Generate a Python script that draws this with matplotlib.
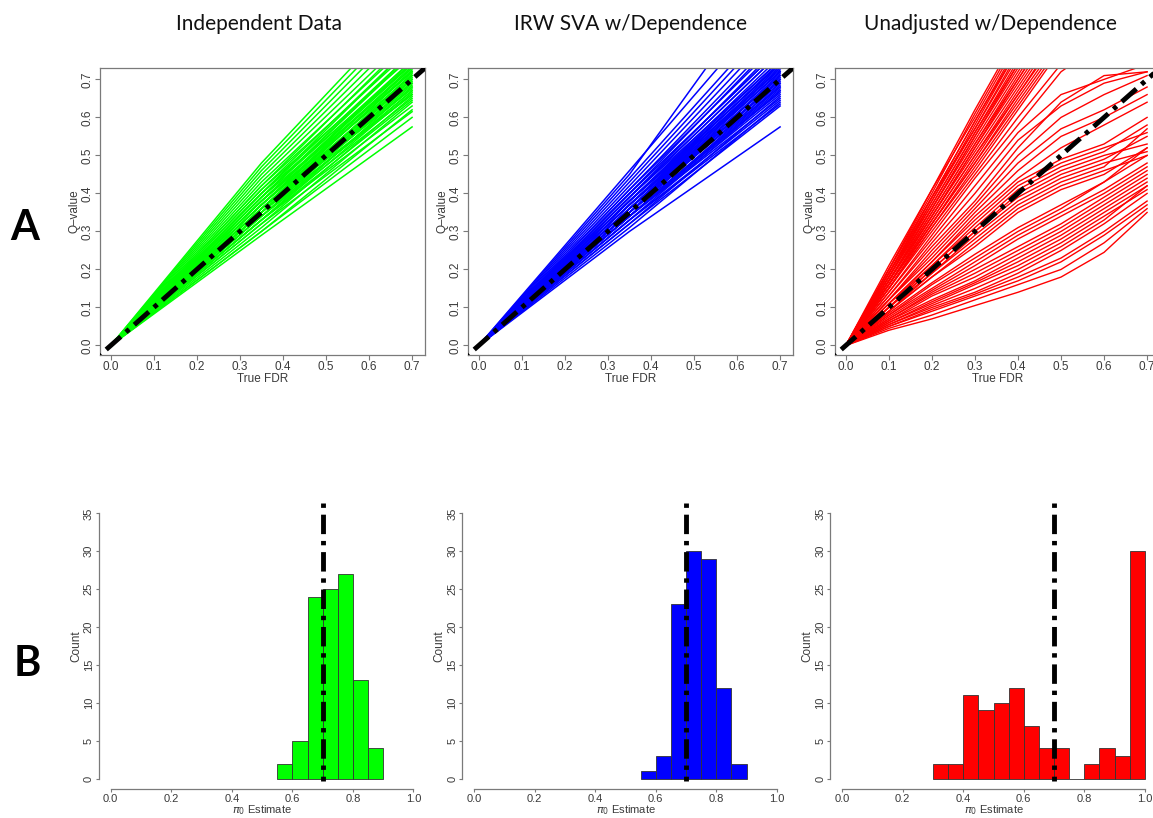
import matplotlib
matplotlib.use("Agg")
import matplotlib.pyplot as plt

plt.rcParams['font.family'] = ['Liberation Sans', 'DejaVu Sans']
plt.rcParams['font.size'] = 8

W, H = 1153, 818

titles = ['Independent Data', 'IRW SVA w/Dependence', 'Unadjusted w/Dependence']
colors = ['#00ff00', '#0000ff', '#ff0000']

# Q-value curves, read at True FDR = 0, 0.35, 0.7
fdr_line = [0.0, 0.35, 0.7]
green_q35 = [0.29, 0.30, 0.32, 0.30, 0.33, 0.31, 0.33, 0.34, 0.32, 0.35, 0.33,
             0.34, 0.36, 0.33, 0.35, 0.36, 0.34, 0.37, 0.35, 0.36, 0.38, 0.35,
             0.37, 0.39, 0.36, 0.38, 0.37, 0.40, 0.38, 0.39, 0.41, 0.39, 0.40,
             0.42, 0.41, 0.43, 0.42, 0.44, 0.45, 0.46, 0.47, 0.48,
             0.34, 0.35, 0.36, 0.37, 0.38, 0.36, 0.37, 0.39, 0.35, 0.38,
             0.40, 0.36]
green_q70 = [0.575, 0.60, 0.615, 0.62, 0.63, 0.64, 0.645, 0.65, 0.655, 0.66,
             0.665, 0.67, 0.675, 0.68, 0.685, 0.69, 0.695, 0.70, 0.70, 0.705,
             0.71, 0.715, 0.72, 0.72, 0.725, 0.73, 0.735, 0.74, 0.745, 0.75,
             0.76, 0.765, 0.77, 0.78, 0.79, 0.80, 0.81, 0.82, 0.84, 0.86, 0.88,
             0.90, 0.67, 0.69, 0.71, 0.73, 0.75, 0.70, 0.72, 0.77, 0.68, 0.74,
             0.79, 0.66]
blue_q35 = [0.30, 0.32, 0.33, 0.31, 0.33, 0.34, 0.32, 0.34, 0.35, 0.33, 0.34,
            0.36, 0.34, 0.35, 0.36, 0.35, 0.37, 0.36, 0.35, 0.37, 0.38, 0.36,
            0.37, 0.38, 0.37, 0.39, 0.38, 0.39, 0.40, 0.39, 0.41, 0.40, 0.41,
            0.42, 0.43, 0.44, 0.46, 0.45, 0.35, 0.36, 0.34, 0.38,
            0.35, 0.36, 0.37, 0.38, 0.36, 0.37, 0.39, 0.34, 0.38, 0.40]
blue_q70 = [0.575, 0.63, 0.635, 0.64, 0.645, 0.65, 0.655, 0.66, 0.665, 0.67,
            0.675, 0.68, 0.685, 0.69, 0.695, 0.70, 0.705, 0.71, 0.715, 0.72,
            0.725, 0.73, 0.735, 0.74, 0.745, 0.75, 0.76, 0.77, 0.78, 0.79,
            0.80, 0.81, 0.82, 0.84, 0.86, 0.88, 0.92, 1.00, 0.70, 0.72, 0.68,
            0.74, 0.69, 0.71, 0.73, 0.75, 0.70, 0.72, 0.77, 0.67, 0.74, 0.78]

# unadjusted curves, read at True FDR = 0.1, 0.2, ..., 0.7
fdr_red = [0.0, 0.1, 0.2, 0.3, 0.4, 0.5, 0.6, 0.7]
red_steep = [[0.21, 0.41, 0.62, 0.82, 1.03, 1.23, 1.44],
             [0.20, 0.40, 0.61, 0.81, 1.01, 1.21, 1.41],
             [0.20, 0.41, 0.60, 0.80, 1.00, 1.20, 1.40],
             [0.19, 0.39, 0.59, 0.79, 0.99, 1.19, 1.39],
             [0.20, 0.39, 0.59, 0.78, 0.98, 1.18, 1.37],
             [0.19, 0.38, 0.58, 0.78, 0.97, 1.16, 1.36],
             [0.19, 0.39, 0.57, 0.77, 0.96, 1.15, 1.34],
             [0.18, 0.38, 0.57, 0.76, 0.95, 1.14, 1.33],
             [0.19, 0.37, 0.56, 0.75, 0.94, 1.13, 1.32],
             [0.18, 0.37, 0.56, 0.74, 0.93, 1.12, 1.30],
             [0.18, 0.36, 0.55, 0.74, 0.92, 1.10, 1.29],
             [0.17, 0.36, 0.55, 0.73, 0.91, 1.09, 1.27],
             [0.18, 0.36, 0.54, 0.72, 0.90, 1.08, 1.26],
             [0.17, 0.35, 0.53, 0.71, 0.89, 1.07, 1.25],
             [0.17, 0.35, 0.53, 0.70, 0.88, 1.06, 1.23],
             [0.17, 0.34, 0.52, 0.70, 0.87, 1.04, 1.22],
             [0.16, 0.34, 0.52, 0.69, 0.86, 1.03, 1.20],
             [0.17, 0.34, 0.51, 0.68, 0.85, 1.02, 1.19],
             [0.16, 0.33, 0.50, 0.67, 0.84, 1.01, 1.18],
             [0.16, 0.33, 0.50, 0.66, 0.83, 1.00, 1.16],
             [0.16, 0.32, 0.49, 0.66, 0.82, 0.98, 1.15],
             [0.15, 0.32, 0.48, 0.65, 0.81, 0.97, 1.13],
             [0.16, 0.32, 0.48, 0.64, 0.80, 0.96, 1.12],
             [0.15, 0.31, 0.47, 0.63, 0.79, 0.94, 1.10],
             [0.15, 0.31, 0.46, 0.62, 0.78, 0.93, 1.09]]
red_mid = [[0.15, 0.30, 0.45, 0.60, 0.74, 0.88, 1.00],
           [0.14, 0.29, 0.44, 0.58, 0.72, 0.80, 0.90],
           [0.14, 0.28, 0.42, 0.56, 0.66, 0.70, 0.74],
           [0.13, 0.27, 0.40, 0.54, 0.63, 0.69, 0.72],
           [0.13, 0.26, 0.38, 0.52, 0.64, 0.71, 0.72],
           [0.12, 0.25, 0.37, 0.50, 0.60, 0.66, 0.71],
           [0.12, 0.24, 0.36, 0.48, 0.57, 0.62, 0.68],
           [0.12, 0.23, 0.35, 0.46, 0.55, 0.60, 0.66],
           [0.11, 0.22, 0.34, 0.44, 0.52, 0.58, 0.64]]
red_plateau = [[0.11, 0.22, 0.33, 0.43, 0.49, 0.53, 0.60],
               [0.11, 0.21, 0.32, 0.42, 0.48, 0.52, 0.56],
               [0.10, 0.21, 0.31, 0.41, 0.47, 0.51, 0.58],
               [0.10, 0.20, 0.30, 0.40, 0.46, 0.50, 0.53],
               [0.10, 0.20, 0.30, 0.39, 0.45, 0.49, 0.55],
               [0.10, 0.19, 0.29, 0.38, 0.44, 0.48, 0.51],
               [0.09, 0.19, 0.28, 0.37, 0.43, 0.47, 0.57],
               [0.09, 0.18, 0.27, 0.36, 0.42, 0.46, 0.50],
               [0.09, 0.18, 0.26, 0.35, 0.41, 0.45, 0.52]]
red_low = [[0.085, 0.165, 0.24, 0.31, 0.37, 0.43, 0.50],
           [0.08, 0.16, 0.23, 0.30, 0.36, 0.43, 0.52],
           [0.08, 0.15, 0.22, 0.29, 0.35, 0.41, 0.48],
           [0.075, 0.145, 0.21, 0.28, 0.34, 0.40, 0.47],
           [0.07, 0.14, 0.20, 0.26, 0.32, 0.39, 0.46],
           [0.07, 0.135, 0.19, 0.25, 0.31, 0.38, 0.45],
           [0.065, 0.13, 0.18, 0.24, 0.30, 0.37, 0.44],
           [0.065, 0.12, 0.17, 0.23, 0.29, 0.36, 0.43],
           [0.06, 0.115, 0.165, 0.22, 0.28, 0.35, 0.42],
           [0.06, 0.11, 0.16, 0.21, 0.27, 0.34, 0.41],
           [0.055, 0.105, 0.15, 0.20, 0.26, 0.33, 0.42],
           [0.055, 0.10, 0.14, 0.19, 0.25, 0.32, 0.40],
           [0.05, 0.095, 0.135, 0.18, 0.23, 0.30, 0.38],
           [0.05, 0.09, 0.13, 0.17, 0.22, 0.29, 0.37],
           [0.045, 0.08, 0.12, 0.16, 0.20, 0.27, 0.36],
           [0.04, 0.07, 0.105, 0.14, 0.18, 0.245, 0.35]]

# pi0 histograms (bin left edges, width 0.05)
green_bins = [0.55, 0.60, 0.65, 0.70, 0.75, 0.80, 0.85]
green_counts = [2, 5, 24, 25, 27, 13, 4]
blue_bins = [0.55, 0.60, 0.65, 0.70, 0.75, 0.80, 0.85]
blue_counts = [1, 3, 23, 30, 29, 12, 2]
red_bins = [0.30, 0.35, 0.40, 0.45, 0.50, 0.55, 0.60, 0.65, 0.70, 0.75,
            0.80, 0.85, 0.90, 0.95]
red_counts = [2, 2, 11, 9, 10, 12, 7, 4, 4, 0, 2, 4, 3, 30]
true_pi0 = 0.7

dashdot = (0, (0.9, 1.4, 4.0, 1.4))
axis_gray = '#7a7a7a'
text_gray = '#3a3a3a'


def px(l, t, r, b):
    return [l / W, 1 - b / H, (r - l) / W, (b - t) / H]


def style_ticks(ax, length, size):
    ax.tick_params(colors=axis_gray, labelcolor=text_gray, length=length,
                   width=0.8, pad=1, labelsize=size)
    ax.tick_params(axis='y', labelrotation=90)
    for lab in ax.get_yticklabels():
        lab.set_va('center')


fig = plt.figure(figsize=(W / 100, H / 100), dpi=100)

# row A: Q-value vs true FDR
ticks_a = [0.0, 0.1, 0.2, 0.3, 0.4, 0.5, 0.6, 0.7]
for i, left in enumerate([100, 468, 835]):
    ax = fig.add_axes(px(left, 68, left + 325, 355))
    if i == 0:
        for a, b in zip(green_q35, green_q70):
            ax.plot(fdr_line, [0.0, a, b], color=colors[0], lw=1.1)
    elif i == 1:
        for a, b in zip(blue_q35, blue_q70):
            ax.plot(fdr_line, [0.0, a, b], color=colors[1], lw=1.1)
    else:
        for grp in [red_steep, red_mid, red_plateau, red_low]:
            for row in grp:
                ax.plot(fdr_red, [0.0] + row, color=colors[2], lw=1.0)
    ax.plot([-0.03, 0.76], [-0.03, 0.76], color='black', lw=3.5,
            ls=dashdot, zorder=5)
    ax.set_xlim(-0.025, 0.73)
    ax.set_ylim(-0.025, 0.73)
    ax.set_xticks(ticks_a)
    ax.set_yticks(ticks_a)
    ax.set_xticklabels([f'{t:.1f}' for t in ticks_a])
    ax.set_yticklabels([f'{t:.1f}' for t in ticks_a])
    for s in ax.spines.values():
        s.set_color(axis_gray)
        s.set_linewidth(0.9)
    style_ticks(ax, 3.5, 8.5)
    ax.set_xlabel('True FDR', color=text_gray, labelpad=0, fontsize=8.5)
    ax.set_ylabel('Q\u2013value', color=text_gray, labelpad=1, fontsize=8.5)

# row B: pi0 estimate histograms
hists = [(green_bins, green_counts), (blue_bins, blue_counts),
         (red_bins, red_counts)]
for i, left in enumerate([98.6, 462, 830]):
    ax = fig.add_axes(px(left, 502.8, left + 327, 789.3))
    bins, counts = hists[i]
    ax.bar(bins, counts, width=0.05, align='edge', color=colors[i],
           edgecolor='#333333', linewidth=0.6)
    ax.plot([true_pi0, true_pi0], [36.4, -0.3], color='black', lw=3.5,
            ls=dashdot, zorder=5)
    ax.set_xlim(-0.04, 1.04)
    ax.set_ylim(-1.4, 36.4)
    ax.set_xticks([0.0, 0.2, 0.4, 0.6, 0.8, 1.0])
    ax.set_xticklabels(['0.0', '0.2', '0.4', '0.6', '0.8', '1.0'])
    ax.set_yticks(range(0, 36, 5))
    for side in ['top', 'right']:
        ax.spines[side].set_visible(False)
    ax.spines['left'].set_bounds(0, 35)
    ax.spines['bottom'].set_bounds(0, 1)
    for side in ['left', 'bottom']:
        ax.spines[side].set_color(axis_gray)
        ax.spines[side].set_linewidth(0.9)
    style_ticks(ax, 2.5, 8)
    ax.set_xlabel(r'$\pi_0$ Estimate', color=text_gray, fontsize=8)
    ax.xaxis.set_label_coords(0.5, -(817 - 789.3) / 286.5)
    ax.xaxis.label.set_va('bottom')
    ax.set_ylabel('Count', color=text_gray, labelpad=1, fontsize=8.5)

for cx, t in zip([259, 630, 990], titles):
    fig.text(cx / W, 1 - 24 / H, t, ha='center', va='center', fontsize=15,
             family=['Lato', 'DejaVu Sans'], color='#111111')
fig.text(25 / W, 1 - 228 / H, 'A', ha='center', va='center', fontsize=30,
         family=['Lato', 'DejaVu Sans'], weight='bold', color='black')
fig.text(27 / W, 1 - 664 / H, 'B', ha='center', va='center', fontsize=30,
         family=['Lato', 'DejaVu Sans'], weight='bold', color='black')

fig.savefig('out.png', dpi=100)
